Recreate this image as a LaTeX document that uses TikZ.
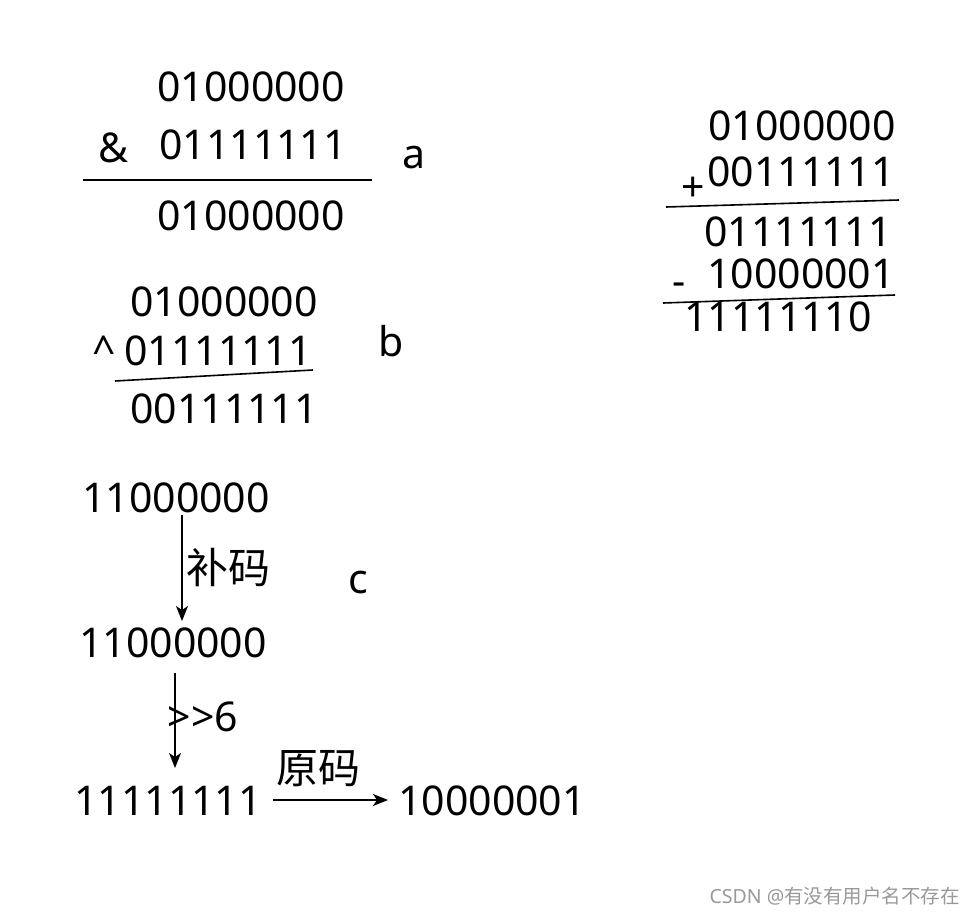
\documentclass[tikz,border=0pt]{standalone}
\usepackage{fontspec}
\setmainfont{Noto Sans}
\newfontfamily\cjk{Noto Sans CJK SC}
\usetikzlibrary{arrows.meta}
\begin{document}
\begin{tikzpicture}[x=1pt,y=-1pt,
  num/.style={inner sep=0pt, anchor=base west, font=\fontsize{41}{41}\selectfont},
  numr/.style={inner sep=0pt, anchor=base west, font=\fontsize{41}{41}\selectfont},
  lab/.style={inner sep=0pt, font=\fontsize{42}{42}\selectfont\cjk},
  rule/.style={line width=1.6pt},
  arr/.style={line width=1.6pt, -{Stealth[length=15pt,width=12pt,inset=4pt]}}]
\useasboundingbox (0,0) rectangle (975,915);
% block a
\node[num] (a1) at (157,102) {01000000};
\node[num] (aop) at (98,163) {\&};
\node[num] (a2) at (159,160) {01111111};
\coordinate (ar1) at (83,180);
\coordinate (ar2) at (372,180);
\draw[rule] (ar1) -- (ar2);
\node[num] (a3) at (157,230) {01000000};
\node[num] (alab) at (402,168) {a};
% block b
\node[num] (b1) at (130,316) {01000000};
\node[num] (bop) at (92,365) {\textasciicircum};
\node[num] (b2) at (124,365) {01111111};
\coordinate (br1) at (115,381);
\coordinate (br2) at (313,370);
\draw[rule] (br1) -- (br2);
\node[num] (b3) at (130,423) {00111111};
\node[num] (blab) at (378,356) {b};
% right block
\node[numr] (r1) at (708,141) {01000000};
\node[numr] (rplus) at (681,201) {+};
\node[numr] (r2) at (707,186) {00111111};
\coordinate (rr1) at (666,207);
\coordinate (rr2) at (899,200);
\draw[rule] (rr1) -- (rr2);
\node[numr] (r3) at (704,246) {01111111};
\node[numr] (rminus) at (672,295) {-};
\node[numr] (r4) at (707,288) {10000001};
\coordinate (rs1) at (663,303);
\coordinate (rs2) at (895,295);
\draw[rule] (rs1) -- (rs2);
\node[numr] (r5) at (684,331) {11111110};
% block c
\node[num] (c1) at (82,512) {11000000};
\node[num] (c2) at (79,657) {11000000};
\node[num] (c3) at (74,815) {11111111};
\node[num] (c4) at (398,815) {10000001};
\node[num] (clab) at (348,593) {c};
\coordinate (p1) at (182,515);
\coordinate (p2) at (182,621);
\draw[arr] (p1) -- (p2) node[lab, midway, anchor=west, xshift=4pt] {补码};
\coordinate (q1) at (175,673);
\coordinate (q2) at (175,768);
\draw[arr] (q1) -- (q2) node[num, midway, anchor=west, xshift=-8pt, yshift=4pt] {>{}>6};
\coordinate (s1) at (273,800);
\coordinate (s2) at (388,800);
\draw[arr] (s1) -- (s2) node[lab, midway, anchor=south, xshift=-12pt, yshift=12pt] {原码};
% watermark
\node[inner sep=0pt, anchor=east, text=black!40, font=\fontsize{19.5}{19.5}\selectfont] (wm) at (960,896) {CSDN @{\cjk 有没有用户名不存在}};
\end{tikzpicture}
\end{document}
